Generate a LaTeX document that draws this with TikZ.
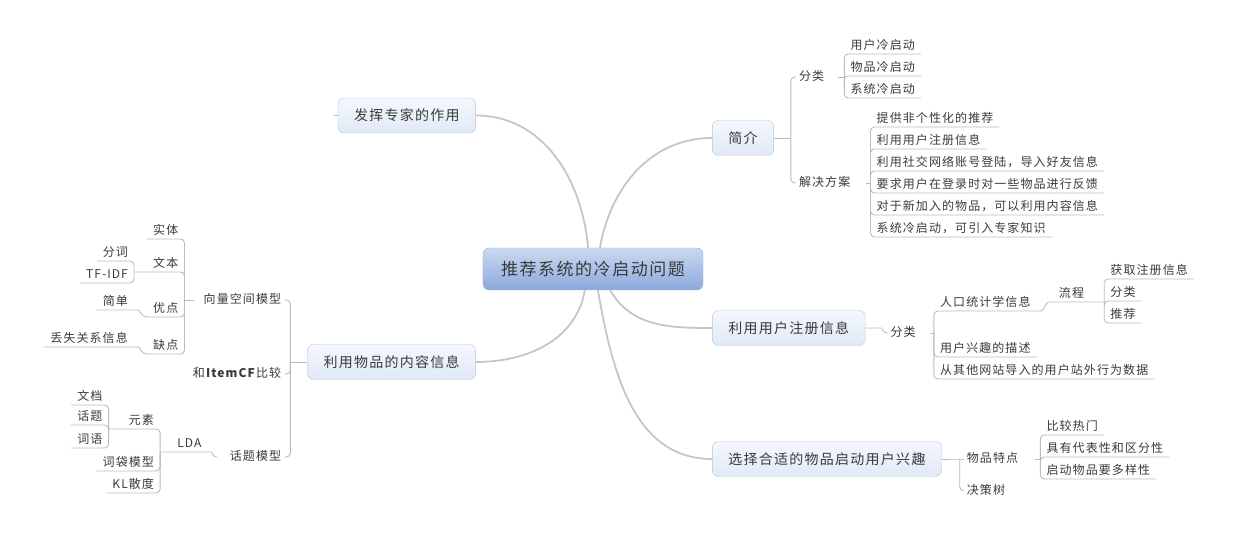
\documentclass[tikz,border=0pt]{standalone}
\usepackage{fontspec}
\newfontfamily\cjk[LetterSpace=9]{Noto Sans CJK SC}
\usetikzlibrary{positioning}
\definecolor{linegray}{HTML}{BBBBBB}
\definecolor{trunkgray}{HTML}{C6C6C6}
\definecolor{textgray}{HTML}{3A3A3A}
\definecolor{boxedge}{HTML}{B7C3D7}
\definecolor{boxtop}{HTML}{F4F8FE}
\definecolor{boxbottom}{HTML}{E0E9F7}
\definecolor{rootedge}{HTML}{9AAFD2}
\definecolor{roottop}{HTML}{CAD9F1}
\definecolor{rootbottom}{HTML}{8CA9DB}
\tikzstyle{root} = [rectangle, rounded corners=6pt, minimum width=220pt, minimum height=42pt, draw=rootedge, top color=roottop, bottom color=rootbottom, text=textgray, font=\cjk\fontsize{17}{20}\selectfont]
\tikzstyle{topic} = [rectangle, rounded corners=6pt, inner xsep=16pt, minimum height=35pt, draw=boxedge, top color=boxtop, bottom color=boxbottom, text=textgray, font=\cjk\fontsize{14}{17}\selectfont]
\tikzstyle{plain} = [inner xsep=3pt, inner ysep=2pt, text height=9pt, text depth=2pt, text=textgray, font=\cjk\fontsize{12}{14}\selectfont]
\tikzstyle{leaf} = [plain, inner xsep=6pt]
\tikzstyle{trunk} = [draw=trunkgray, line width=1.8pt]
\tikzstyle{branch} = [draw=linegray, line width=0.9pt, rounded corners=4pt]

\begin{document}
\begin{tikzpicture}[x=1pt, y=1pt, node distance=22pt]
\useasboundingbox (-593,-268) rectangle (647,269);
\node (central) [root] at (0,0) {推荐系统的冷启动问题};
\node (intro) [topic, anchor=west] at ([shift={(9,131)}]central.east) {简介};
\node (reg) [topic, anchor=west] at ([shift={(9,-59)}]central.east) {利用用户注册信息};
\node (pick) [topic, anchor=west, minimum width=227pt] at ([shift={(9,-190)}]central.east) {选择合适的物品启动用户兴趣};
\node (expert) [topic, anchor=east] at ([shift={(-7,153.5)}]central.west) {发挥专家的作用};
\node (content) [topic, anchor=east] at ([shift={(-7,-93)}]central.west) {利用物品的内容信息};

\coordinate (introbar) at ([xshift=17pt]intro.east);
\node (kind) [plain, anchor=west] at ([shift={(5,61)}]introbar) {分类};
\node (plan) [plain, anchor=west] at ([shift={(5,-45)}]introbar) {解决方案};
\coordinate (kindbar) at ([xshift=17pt]kind.east);
\node (usercold) [leaf, anchor=south west] at ([yshift=23pt]kindbar) {用户冷启动};
\node (itemcold) [leaf, below=22pt of usercold.south west, anchor=south west] {物品冷启动};
\node (syscold) [leaf, below=22pt of itemcold.south west, anchor=south west] {系统冷启动};
\coordinate (planbar) at ([xshift=17pt]plan.east);
\node (nonpersonal) [leaf, anchor=south west] at ([yshift=56pt]planbar) {提供非个性化的推荐};
\node (reginfo) [leaf, below=22pt of nonpersonal.south west, anchor=south west] {利用用户注册信息};
\node (social) [leaf, below=22pt of reginfo.south west, anchor=south west] {利用社交网络账号登陆，导入好友信息};
\node (feedback) [leaf, below=22pt of social.south west, anchor=south west] {要求用户在登录时对一些物品进行反馈};
\node (newitem) [leaf, below=22pt of feedback.south west, anchor=south west] {对于新加入的物品，可以利用内容信息};
\node (expertknow) [leaf, below=22pt of newitem.south west, anchor=south west] {系统冷启动，可引入专家知识};

\node (kindb) [plain, anchor=west] at ([shift={(22,-5)}]reg.east) {分类};
\coordinate (kindbbar) at ([xshift=15pt]kindb.east);
\node (demo) [leaf, anchor=south west] at ([yshift=22pt]kindbbar) {人口统计学信息};
\node (interest) [leaf, anchor=south west] at ([yshift=-24pt]kindbbar) {用户兴趣的描述};
\node (outside) [leaf, below=22pt of interest.south west, anchor=south west] {从其他网站导入的用户站外行为数据};
\node (flow) [leaf, anchor=south west] at ([shift={(16,9)}]demo.south east) {流程};
\coordinate (flowbar) at ([xshift=14pt]flow.south east);
\node (getinfo) [leaf, anchor=south west] at ([yshift=23pt]flowbar) {获取注册信息};
\node (classify) [leaf, below=22pt of getinfo.south west, anchor=south west] {分类};
\node (recommend) [leaf, below=22pt of classify.south west, anchor=south west] {推荐};

\coordinate (pickbar) at ([xshift=18pt]pick.east);
\node (feature) [plain, anchor=west] at ([xshift=4pt]pickbar) {物品特点};
\node (dtree) [plain, anchor=west] at ([shift={(4,-32)}]pickbar) {决策树};
\coordinate (featbar) at ([xshift=19pt]feature.east);
\node (popular) [leaf, anchor=south west] at ([yshift=24pt]featbar) {比较热门};
\node (typical) [leaf, below=22pt of popular.south west, anchor=south west] {具有代表性和区分性};
\node (diverse) [leaf, below=22pt of typical.south west, anchor=south west] {启动物品要多样性};

\coordinate (expertend) at ([xshift=-4pt]expert.west);
\coordinate (contentbar) at ([xshift=-17pt]content.west);
\node (vsm) [plain, anchor=east] at ([shift={(-6,62)}]contentbar) {向量空间模型};
\node (cmp) [plain, anchor=east] at ([shift={(-6,-12)}]contentbar) {和\textbf{ItemCF}比较};
\node (topicm) [plain, anchor=east] at ([shift={(-6,-95)}]contentbar) {话题模型};
\coordinate (vsmbar) at ([xshift=-16pt]vsm.west);
\node (entity) [leaf, anchor=south east] at ([yshift=61pt]vsmbar) {实体};
\node (doctext) [leaf, anchor=south east] at ([yshift=28pt]vsmbar) {文本};
\node (merit) [leaf, anchor=south east] at ([yshift=-17pt]vsmbar) {优点};
\node (flaw) [leaf, anchor=south east] at ([yshift=-54pt]vsmbar) {缺点};
\coordinate (doctextbar) at ([xshift=-13pt]doctext.south west);
\node (wordseg) [leaf, anchor=south east] at ([yshift=11pt]doctextbar) {分词};
\node (tfidf) [leaf, anchor=south east] at ([yshift=-11pt]doctextbar) {TF-IDF};
\node (simple) [leaf, anchor=south east] at ([shift={(-13,7)}]merit.south west) {简单};
\node (lostrel) [leaf, anchor=south east] at ([shift={(-13,7)}]flaw.south west) {丢失关系信息};
\node (lda) [leaf, anchor=south east] at ([shift={(-19,5)}]topicm.west) {LDA};
\coordinate (ldabar) at ([xshift=-11pt]lda.south west);
\node (element) [leaf, anchor=south east] at ([yshift=23pt]ldabar) {元素};
\node (bagofwords) [leaf, anchor=south east] at ([yshift=-19pt]ldabar) {词袋模型};
\node (kldiv) [leaf, below=22pt of bagofwords.south east, anchor=south east] {KL散度};
\coordinate (elementbar) at ([xshift=-14pt]element.south west);
\node (document) [leaf, anchor=south east] at ([yshift=24pt]elementbar) {文档};
\node (topicword) [leaf, below=20pt of document.south east, anchor=south east] {话题};
\node (word) [leaf, below=23pt of topicword.south east, anchor=south east] {词语};

\draw [trunk] (central.103) to[out=95,in=0] (expert.east);
\draw [trunk] (central.72) to[out=80,in=180] (intro.west);
\draw [trunk] (central.249) to[out=-100,in=0] (content.east);
\draw [trunk] (central.309) to[out=-60,in=180] (reg.west);
\draw [trunk] (central.283) to[out=-80,in=180] (pick.west);

\draw [branch] (intro) -- (introbar);
\draw [branch] (introbar) |- (kind.west);
\draw [branch] (introbar) |- (plan.west);
\draw [branch] ([xshift=11pt]kind.east) -- (kindbar);
\draw [branch] (kindbar) |- (usercold.south east);
\draw [branch] (kindbar) |- (itemcold.south east);
\draw [branch] (kindbar) |- (syscold.south east);
\draw [branch] ([xshift=12pt]plan.east) -- (planbar);
\draw [branch] (planbar) |- (nonpersonal.south east);
\draw [branch] (planbar) |- (reginfo.south east);
\draw [branch] (planbar) |- (social.south east);
\draw [branch] (planbar) |- (feedback.south east);
\draw [branch] (planbar) |- (newitem.south east);
\draw [branch] (planbar) |- (expertknow.south east);

\draw [branch] (reg.east) -- ++(12,0) to[out=0,in=180] (kindb.west);
\draw [branch] ([xshift=11pt]kindb.east) -- (kindbbar);
\draw [branch] (kindbbar) |- (demo.south east) to[out=0,in=180] (flow.south west) -- (flowbar);
\draw [branch] (kindbbar) |- (interest.south east);
\draw [branch] (kindbbar) |- (outside.south east);
\draw [branch] (flowbar) |- (getinfo.south east);
\draw [branch] (flowbar) |- (classify.south east);
\draw [branch] (flowbar) |- (recommend.south east);

\draw [branch] (pick.east) -- (pickbar) -- (feature.west);
\draw [branch] (pickbar) |- (dtree.west);
\draw [branch] ([xshift=14pt]feature.east) -- (featbar);
\draw [branch] (featbar) |- (popular.south east);
\draw [branch] (featbar) |- (typical.south east);
\draw [branch] (featbar) |- (diverse.south east);

\draw [branch] (expert) -- (expertend);
\draw [branch] (content) -- (contentbar);
\draw [branch] (contentbar) |- (vsm.east);
\draw [branch] (contentbar) |- (cmp.east);
\draw [branch] (contentbar) |- (topicm.east);
\draw [branch] ([xshift=-7pt]vsm.west) -- (vsmbar);
\draw [branch] (vsmbar) |- (entity.south west);
\draw [branch] (vsmbar) |- (doctext.south west) -- (doctextbar);
\draw [branch] (vsmbar) |- (merit.south west);
\draw [branch] (vsmbar) |- (flaw.south west);
\draw [branch] (doctextbar) |- (wordseg.south west);
\draw [branch] (doctextbar) |- (tfidf.south west);
\draw [branch] (simple.south west) -- (simple.south east) to[out=0,in=180] (merit.south west);
\draw [branch] (lostrel.south west) -- (lostrel.south east) to[out=0,in=180] (flaw.south west);
\draw [branch] ([xshift=-10pt]topicm.west) to[out=180,in=0] (lda.south east) -- (lda.south west) -- (ldabar);
\draw [branch] (ldabar) |- (element.south west) -- (elementbar);
\draw [branch] (ldabar) |- (bagofwords.south west);
\draw [branch] (ldabar) |- (kldiv.south west);
\draw [branch] (elementbar) |- (document.south west);
\draw [branch] (elementbar) |- (topicword.south west);
\draw [branch] (elementbar) |- (word.south west);
\end{tikzpicture}
\end{document}
